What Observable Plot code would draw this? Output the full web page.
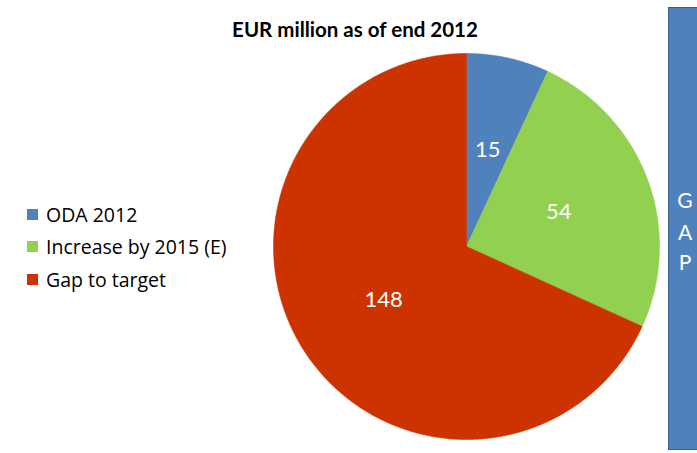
<!DOCTYPE html>
<html>
<head>
<meta charset="utf-8">
<script src="https://cdn.jsdelivr.net/npm/d3@7"></script>
<script src="https://cdn.jsdelivr.net/npm/@observablehq/plot@0.6"></script>
<style>
  html, body { margin: 0; padding: 0; background: #fff; }
  #wrap { position: relative; width: 697px; height: 453px; overflow: hidden; font-family: Lato, "Open Sans", sans-serif; }
  #title { position: absolute; left: 0; width: 710px; top: 17px; text-align: center; font-weight: bold; font-size: 20.5px; color: #000; }
  #legend { position: absolute; left: 27px; top: 198px; font-size: 19.5px; color: #000; font-family: "Open Sans", Lato, sans-serif; }
  .row { display: flex; align-items: center; height: 32.5px; }
  .sw { width: 11px; height: 11px; margin-right: 8px; }
  #gap { position: absolute; left: 668px; top: 7px; width: 40px; height: 443px; background: #4f81bd; border: 1.5px solid #385d8a; box-sizing: border-box; color: #fff; font-size: 21px; }
  #gap div { position: absolute; left: 0; width: 32px; text-align: center; line-height: 24px; }
  #chart { position: absolute; left: 0; top: 0; }
</style>
</head>
<body>
<div id="wrap">
  <div id="chart"></div>
  <div id="title"></div>
  <div id="legend"></div>
  <div id="gap"></div>
</div>
<script>
// Data
const categories = ["ODA 2012", "Increase by 2015 (E)", "Gap to target"];
const values = [15, 54, 148];
const colors = ["#4f81bd", "#92d050", "#cc3300"];
const titleText = "EUR million as of end 2012";
const gapLetters = ["G", "A", "P"];

const W = 697, H = 453;
const cx = 466, cy = 246, R = 193;

// Build slice polygons (angles clockwise from 12 o'clock)
const pieGen = d3.pie().sort(null).value(d => d.value);
const arcs = pieGen(categories.map((c, i) => ({cat: c, value: values[i]})));
const polyPts = [];
const labels = [];
arcs.forEach(a => {
  const cat = a.data.cat;
  polyPts.push({cat, x: 0, y: 0});
  const n = Math.max(2, Math.ceil((a.endAngle - a.startAngle) / 0.005));
  for (let k = 0; k <= n; k++) {
    const t = a.startAngle + (a.endAngle - a.startAngle) * k / n;
    polyPts.push({cat, x: Math.sin(t), y: Math.cos(t)});
  }
  polyPts.push({cat, x: 0, y: 0});
  const m = (a.startAngle + a.endAngle) / 2;
  labels.push({cat, value: a.data.value, x: 0.51 * Math.sin(m), y: 0.51 * Math.cos(m)});
});

const plot = Plot.plot({
  width: W, height: H,
  margin: 0,
  x: {domain: [-cx / R, (W - cx) / R], axis: null},
  y: {domain: [-(H - cy) / R, cy / R], axis: null},
  color: {domain: categories, range: colors},
  style: {background: "transparent"},
  marks: [
    Plot.line(polyPts, {x: "x", y: "y", z: "cat", fill: "cat", stroke: "cat", strokeWidth: 0.6, curve: "linear"}),
    Plot.text(labels, {x: "x", y: "y", text: d => String(d.value), fill: "white", fontSize: 22, fontFamily: "Lato, 'Open Sans', sans-serif"})
  ]
});
document.getElementById("chart").appendChild(plot);

document.getElementById("title").textContent = titleText;
const leg = document.getElementById("legend");
categories.forEach((c, i) => {
  const row = document.createElement("div");
  row.className = "row";
  const sw = document.createElement("div");
  sw.className = "sw";
  sw.style.background = colors[i];
  const tx = document.createElement("span");
  tx.textContent = c;
  row.appendChild(sw); row.appendChild(tx);
  leg.appendChild(row);
});
const gap = document.getElementById("gap");
const gapTops = [179.5, 211.5, 241.5];
gapLetters.forEach((L, i) => {
  const d = document.createElement("div");
  d.textContent = L;
  d.style.top = gapTops[i] + "px";
  gap.appendChild(d);
});
</script>
</body>
</html>
